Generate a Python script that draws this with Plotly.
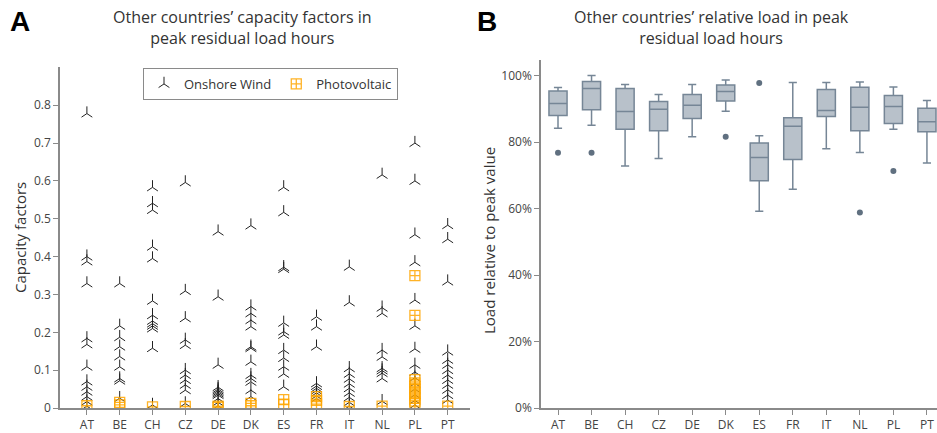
import plotly.graph_objects as go

countries = ["AT", "BE", "CH", "CZ", "DE", "DK", "ES", "FR", "IT", "NL", "PL", "PT"]

# Panel A: capacity factors in peak residual load hours
wind = {
    "AT": [0.778, 0.400, 0.387, 0.329, 0.184, 0.168, 0.109, 0.070, 0.056, 0.043, 0.030, 0.017, 0.005],
    "BE": [0.329, 0.217, 0.187, 0.162, 0.136, 0.109, 0.078, 0.072, 0.026],
    "CH": [0.583, 0.541, 0.523, 0.426, 0.395, 0.283, 0.245, 0.230, 0.223, 0.217, 0.210, 0.158, 0.008],
    "CZ": [0.596, 0.309, 0.237, 0.180, 0.166, 0.100, 0.087, 0.074, 0.061, 0.047, 0.012],
    "DE": [0.466, 0.294, 0.114, 0.055, 0.050, 0.046, 0.042, 0.038, 0.034, 0.025, 0.015, 0.006],
    "DK": [0.482, 0.268, 0.250, 0.232, 0.215, 0.162, 0.158, 0.122, 0.087, 0.078, 0.069, 0.047, 0.030],
    "ES": [0.583, 0.517, 0.372, 0.367, 0.225, 0.202, 0.193, 0.153, 0.132, 0.109, 0.090, 0.056],
    "FR": [0.241, 0.215, 0.162, 0.065, 0.058, 0.052, 0.046, 0.040, 0.032, 0.025],
    "IT": [0.373, 0.279, 0.105, 0.090, 0.077, 0.064, 0.052, 0.040, 0.028, 0.015, 0.005],
    "NL": [0.616, 0.265, 0.250, 0.153, 0.135, 0.105, 0.099, 0.092, 0.078, 0.018],
    "PL": [0.700, 0.600, 0.458, 0.385, 0.285, 0.217, 0.156, 0.114, 0.095, 0.080, 0.065, 0.050, 0.035, 0.020, 0.008],
    "PT": [0.483, 0.446, 0.334, 0.149, 0.127, 0.114, 0.100, 0.087, 0.074, 0.061, 0.048, 0.034, 0.021],
}
pv = {
    "AT": [0.006],
    "BE": [0.015, 0.008],
    "CH": [0.003],
    "CZ": [0.004],
    "DE": [0.005, 0.002],
    "DK": [0.012, 0.006],
    "ES": [0.022, 0.010],
    "FR": [0.030, 0.020, 0.010],
    "IT": [0.004],
    "NL": [0.005],
    "PL": [0.350, 0.245, 0.075, 0.066, 0.058, 0.050, 0.042, 0.034, 0.026, 0.018, 0.012],
    "PT": [0.005],
}

# Panel B: relative load (box statistics, fraction of peak)
upper_fence = [0.964, 1.000, 0.973, 0.943, 0.973, 0.987, 0.819, 0.979, 0.979, 0.981, 0.966, 0.925]
q3 = [0.954, 0.982, 0.961, 0.922, 0.943, 0.972, 0.797, 0.873, 0.958, 0.965, 0.940, 0.902]
median = [0.916, 0.961, 0.892, 0.899, 0.911, 0.952, 0.754, 0.848, 0.895, 0.905, 0.907, 0.861]
q1 = [0.880, 0.897, 0.839, 0.834, 0.871, 0.924, 0.684, 0.748, 0.877, 0.834, 0.856, 0.831]
lower_fence = [0.842, 0.851, 0.728, 0.751, 0.816, 0.893, 0.592, 0.658, 0.780, 0.769, 0.839, 0.737]
outlier_country = ["AT", "BE", "DK", "ES", "NL", "PL"]
outlier_value = [0.768, 0.768, 0.816, 0.978, 0.588, 0.713]

y_ticks_a = [0, 0.1, 0.2, 0.3, 0.4, 0.5, 0.6, 0.7, 0.8]
y_ticks_b = [0, 0.2, 0.4, 0.6, 0.8, 1.0]

FONT = "Open Sans"
TXT = "#444"
AX = "#8a8a8a"

wx, wy, px, py = [], [], [], []
for c in countries:
    wx += [c] * len(wind[c]); wy += wind[c]
    px += [c] * len(pv[c]); py += pv[c]

fig = go.Figure()
fig.add_trace(go.Scatter(
    x=wx, y=wy, mode="markers", name="Onshore Wind", xaxis="x", yaxis="y",
    marker=dict(symbol="y-up", size=9, color="#222", line=dict(color="#222", width=1)),
))
fig.add_trace(go.Scatter(
    x=px, y=py, mode="markers", name="Photovoltaic", xaxis="x", yaxis="y",
    marker=dict(symbol="square-cross-open", size=10, color="rgba(255,166,0,0.85)",
                line=dict(color="rgba(255,166,0,0.85)", width=1.3)),
))
fig.add_trace(go.Box(
    x=countries, q1=q1, median=median, q3=q3, lowerfence=lower_fence, upperfence=upper_fence,
    xaxis="x2", yaxis="y2", showlegend=False, boxpoints=False,
    fillcolor="rgb(184,193,202)", line=dict(color="rgb(118,134,150)", width=1.5),
    width=0.54, whiskerwidth=0.45,
))
fig.add_trace(go.Scatter(
    x=outlier_country, y=outlier_value, mode="markers", xaxis="x2", yaxis="y2", showlegend=False,
    marker=dict(symbol="circle", size=6, color="rgb(96,112,128)"),
))

W, H = 937, 433
ybot = (H - 408) / H

axis_common = dict(showline=True, linecolor=AX, linewidth=1.5, ticks="outside", ticklen=5,
                   tickcolor=AX, tickfont=dict(family=FONT, size=12, color=TXT), showgrid=False,
                   zeroline=False, automargin=False)

fig.update_layout(
    width=W, height=H, margin=dict(l=0, r=0, t=0, b=0, pad=0, autoexpand=False),
    paper_bgcolor="white", plot_bgcolor="white",
    font=dict(family=FONT, color=TXT),
    xaxis=dict(domain=[60 / W, 470 / W], type="category", categoryorder="array",
               categoryarray=countries, range=[-0.82, 11.68], anchor="y", **axis_common),
    yaxis=dict(domain=[ybot, (H - 67.4) / H], range=[0, 0.9], tickvals=y_ticks_a,
               ticktext=["0"] + [f"{v:g}" for v in y_ticks_a[1:]], anchor="x", **axis_common),
    xaxis2=dict(domain=[541 / W, 1.0], type="category", categoryorder="array",
                categoryarray=countries, range=[-0.507, 11.3], anchor="y2", **axis_common),
    yaxis2=dict(domain=[ybot, (H - 60) / H], range=[0, 1.047], tickvals=y_ticks_b, tickformat=".0%",
                anchor="x2", **axis_common),
    legend=dict(orientation="h", x=143 / W, y=(H - 68) / H, xanchor="left", yanchor="top",
                bordercolor="#8a8a8a", borderwidth=1, bgcolor="white",
                font=dict(family=FONT, size=13, color="#333")),
    annotations=[
        dict(text="Other countries’ capacity factors in<br>peak residual load hours", x=243 / W, y=1 - 27.5 / H,
             xref="paper", yref="paper", showarrow=False, xanchor="center", yanchor="middle",
             font=dict(family=FONT, size=16, color="#333")),
        dict(text="Other countries’ relative load in peak<br>residual load hours", x=711 / W, y=1 - 27.5 / H,
             xref="paper", yref="paper", showarrow=False, xanchor="center", yanchor="middle",
             font=dict(family=FONT, size=16, color="#333")),
        dict(text="<b>A</b>", x=8 / W, y=1 - 22 / H, xref="paper", yref="paper", showarrow=False,
             xanchor="left", yanchor="middle", font=dict(family="Liberation Sans", size=28, color="black")),
        dict(text="<b>B</b>", x=475 / W, y=1 - 22 / H, xref="paper", yref="paper", showarrow=False,
             xanchor="left", yanchor="middle", font=dict(family="Liberation Sans", size=28, color="black")),
        dict(text="Capacity factors", x=20 / W, y=(H - 238) / H, xref="paper", yref="paper",
             showarrow=False, textangle=-90, xanchor="center", yanchor="middle",
             font=dict(family=FONT, size=15, color="#333")),
        dict(text="Load relative to peak value", x=489 / W, y=(H - 240) / H, xref="paper", yref="paper",
             showarrow=False, textangle=-90, xanchor="center", yanchor="middle",
             font=dict(family=FONT, size=15, color="#333")),
    ],
)

fig.write_html(
    "out.html",
    config={"displayModeBar": False},
    post_script="document.body.style.margin='0';document.body.style.padding='0';document.body.style.overflow='hidden';",
)
